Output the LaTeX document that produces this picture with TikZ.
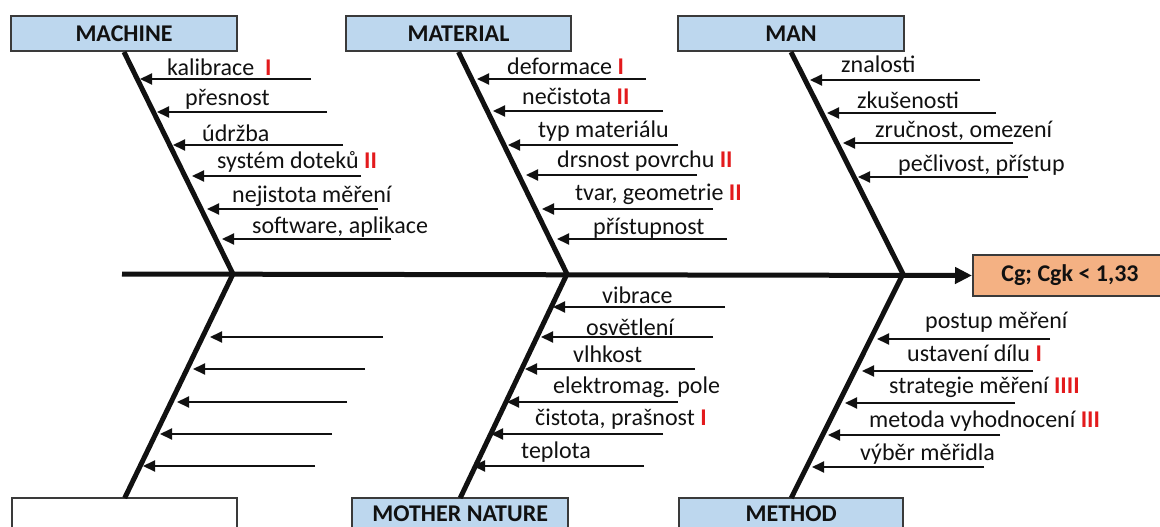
\documentclass[tikz,border=0pt]{standalone}
\usepackage{fontspec}
\setmainfont{Carlito}
\usetikzlibrary{arrows.meta}
\definecolor{catblue}{HTML}{BDD7EE}
\definecolor{effectfill}{HTML}{F4B183}
\definecolor{boxline}{HTML}{3A3A3A}
\definecolor{tallyred}{HTML}{E31A1C}
\definecolor{ink}{HTML}{111111}
\newcommand\tally[1]{\textcolor{tallyred}{\textbf{#1}}}
\tikzset{
  catbox/.style={draw=boxline, line width=2pt, fill=catblue, minimum height=35pt,
    inner sep=0pt, font=\fontsize{24}{28}\selectfont\bfseries, text=ink},
  lowbox/.style={fill=catblue, minimum height=29pt, inner sep=0pt,
    text height=17pt, text depth=0pt,
    font=\fontsize{24}{28}\selectfont\bfseries, text=ink},
  boxedge/.style={draw=boxline, line width=2pt},
  bone/.style={line width=5pt, ink},
  cause/.style={line width=2pt, ink, -{Triangle[length=12pt,width=11pt]}},
  causelabel/.style={anchor=base west, inner sep=0pt, font=\fontsize{24}{28}\selectfont, text=ink},
}
\begin{document}
\begin{tikzpicture}[x=1pt,y=-1pt]
\useasboundingbox (0,0) rectangle (1160,527);
\clip (0,0) rectangle (1160,527);

% upper category boxes
\node[catbox, minimum width=226pt, anchor=north west] (machine) at (10,15) {MACHINE};
\node[catbox, minimum width=225pt, anchor=north west] (material) at (345,15) {MATERIAL};
\node[catbox, minimum width=226pt, anchor=north west] (man) at (677,15) {MAN};

% lower category boxes, running off the bottom edge
\node[lowbox, minimum width=225pt, anchor=north west, fill=white] (blank) at (12,498) {};
\node[lowbox, minimum width=216pt, anchor=north west] (nature) at (352,498) {MOTHER NATURE};
\node[lowbox, minimum width=224pt, anchor=north west] (method) at (679,498) {METHOD};
\foreach \b in {blank, nature, method} {
  \draw[boxedge] ([yshift=-8pt]\b.south west) -- (\b.north west) -- (\b.north east) -- ([yshift=-8pt]\b.south east);
}

% effect
\node[catbox, fill=effectfill, minimum width=194pt, minimum height=41pt, anchor=north west] (effect) at (972,254) {Cg; Cgk < 1,33};

% spine and junctions
\coordinate (tail) at (122,274);
\coordinate (j1) at (233,274);
\coordinate (j2) at (567,274);
\coordinate (j3) at (903,274);
\draw[line width=5pt, ink, -{Triangle[length=17pt,width=16pt]}] (tail) -- (effect.west);

% main bones
\draw[bone] (machine.south) -- (j1) -- (blank.north);
\draw[bone] (material.south) -- (j2) -- (nature.north);
\draw[bone] (man.south) -- (j3) -- (method.north);

% machine causes: line y / start x / tip x / text x / baseline / text
\foreach \y/\s/\t/\tx/\by/\lab [count=\i] in {
  79/311/140/167/76/{kalibrace\ \ \tally{I}},
  112/327/157/185/106/{přesnost},
  145/343/173/202/141/{údržba},
  176/361/192/217/168/{systém doteků \tally{II}},
  209/378/207/232/202/{nejistota měření},
  239/391/222/252/233/{software, aplikace}} {
  \coordinate (mac-s\i) at (\s,\y);
  \coordinate (mac-t\i) at (\t,\y);
  \draw[cause] (mac-s\i) -- (mac-t\i);
  \node[causelabel] (mac-l\i) at (\tx,\by) {\lab};
}

% material causes
\foreach \y/\s/\t/\tx/\by/\lab [count=\i] in {
  79/646/477/507/75/{deformace \tally{I}},
  111/663/493/522/105/{nečistota \tally{II}},
  145/678/508/538/137/{typ materiálu},
  175/697/526/557/167/{drsnost povrchu \tally{II}},
  209/713/542/575/200/{tvar, geometrie \tally{II}},
  239/727/557/593/234/{přístupnost}} {
  \coordinate (mat-s\i) at (\s,\y);
  \coordinate (mat-t\i) at (\t,\y);
  \draw[cause] (mat-s\i) -- (mat-t\i);
  \node[causelabel] (mat-l\i) at (\tx,\by) {\lab};
}

% man causes
\foreach \y/\s/\t/\tx/\by/\lab [count=\i] in {
  80/980/810/841/73/{znalosti},
  113/996/827/857/108/{zkušenosti},
  143/1013/843/875/137/{zručnost, omezení},
  177/1028/858/898/171/{pečlivost, přístup}} {
  \coordinate (man-s\i) at (\s,\y);
  \coordinate (man-t\i) at (\t,\y);
  \draw[cause] (man-s\i) -- (man-t\i);
  \node[causelabel] (man-l\i) at (\tx,\by) {\lab};
}

% unlabelled causes on the lower left bone
\foreach \y/\s/\t [count=\i] in {
  337/383/210, 369/365/193, 402/347/177, 434/332/160, 466/315/143} {
  \coordinate (bl-s\i) at (\s,\y);
  \coordinate (bl-t\i) at (\t,\y);
  \draw[cause] (bl-s\i) -- (bl-t\i);
}

% mother nature causes
\foreach \y/\s/\t/\tx/\by/\lab [count=\i] in {
  307/725/553/602/303/{vibrace},
  337/713/541/586/335/{osvětlení},
  369/695/525/573/362/{vlhkost},
  402/678/507/553/393/{elektromag. pole},
  434/663/491/535/425/{čistota, prašnost \tally{I}},
  466/644/473/521/458/{teplota}} {
  \coordinate (nat-s\i) at (\s,\y);
  \coordinate (nat-t\i) at (\t,\y);
  \draw[cause] (nat-s\i) -- (nat-t\i);
  \node[causelabel] (nat-l\i) at (\tx,\by) {\lab};
}

% method causes
\foreach \y/\s/\t/\tx/\by/\lab [count=\i] in {
  339/1050/877/925/328/{postup měření},
  371/1033/862/907/361/{ustavení dílu \tally{I}},
  403/1015/845/889/393/{strategie měření \tally{IIII}},
  435/1000/828/869/427/{metoda vyhodnocení \tally{III}},
  467/984/812/860/460/{výběr měřidla}} {
  \coordinate (met-s\i) at (\s,\y);
  \coordinate (met-t\i) at (\t,\y);
  \draw[cause] (met-s\i) -- (met-t\i);
  \node[causelabel] (met-l\i) at (\tx,\by) {\lab};
}
\end{tikzpicture}
\end{document}
